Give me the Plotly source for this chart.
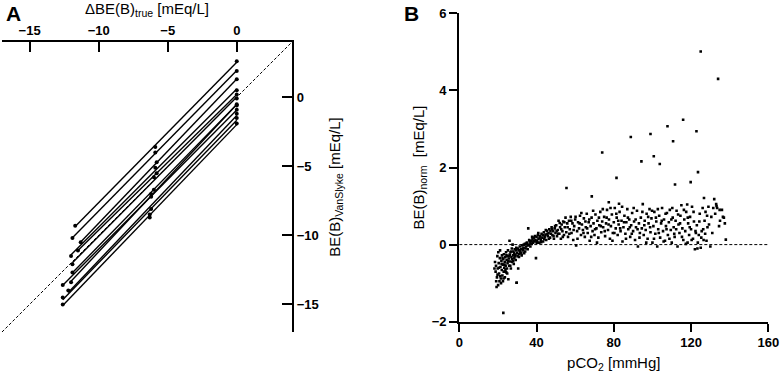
import numpy as np
import plotly.graph_objects as go

# ---------------- Panel A data: each subject (x_true, y_vanslyke) ----------------
a_x = [
    [-11.7, -5.9, 0.0],
    [-11.9, -5.9, 0.0],
    [-11.3, -5.8, 0.0],
    [-12.0, -5.9, 0.0],
    [-11.5, -5.8, 0.0],
    [-11.9, -6.0, 0.0],
    [-11.9, -6.0, 0.0],
    [-12.0, -6.2, 0.0],
    [-12.6, -6.2, 0.0],
    [-12.2, -6.2, 0.0],
    [-12.6, -6.3, 0.0],
    [-12.6, -6.3, 0.0],
]
a_y = [
    [-9.3, -3.6, 2.6],
    [-10.2, -4.0, 1.9],
    [-10.5, -4.7, 1.3],
    [-11.5, -5.1, 0.5],
    [-11.1, -5.5, 0.2],
    [-12.1, -5.8, -0.1],
    [-12.7, -6.7, -0.5],
    [-13.4, -7.0, -0.6],
    [-13.6, -7.2, -0.9],
    [-14.0, -8.1, -1.2],
    [-14.5, -8.5, -1.5],
    [-15.0, -8.7, -1.9],
]
a_ticks = [-15, -10, -5, 0]

# ---------------- Panel B data: pCO2 vs BE(B)norm ----------------
b_pco2 = [
    18.2, 18.5, 18.8, 19.0, 19.3, 19.5, 19.7, 19.9, 20.1, 20.2, 20.4, 20.6, 20.8, 21.0, 21.1, 21.3, 21.5, 21.6, 21.8, 22.0,
    22.1, 22.3, 22.5, 22.6, 22.8, 23.0, 23.1, 23.3, 23.5, 23.6, 23.8, 24.0, 24.2, 24.3, 24.5, 24.7, 24.9, 25.0, 25.2, 25.4,
    25.6, 25.8, 26.0, 26.1, 26.3, 26.5, 26.7, 27.0, 27.2, 27.4, 27.6, 27.8, 28.0, 28.2, 28.5, 28.7, 29.0, 29.2, 29.5, 29.7,
    30.0, 30.2, 30.5, 30.7, 31.0, 31.3, 31.6, 32.0, 32.3, 32.6, 33.0, 33.3, 33.6, 34.0, 34.3, 34.6, 35.0, 35.4, 35.7, 36.0,
    36.4, 36.8, 37.2, 37.5, 37.9, 38.2, 38.6, 39.0, 39.4, 39.7, 40.0, 40.3, 40.7, 41.0, 41.4, 41.8, 42.2, 42.6, 43.0, 43.4,
    43.8, 44.2, 44.6, 45.0, 45.4, 45.8, 46.2, 46.6, 47.0, 47.4, 47.8, 48.2, 48.6, 49.0, 49.4, 49.8, 50.2, 50.6, 51.0, 51.4,
    51.8, 52.2, 52.6, 53.0, 53.4, 53.8, 54.2, 54.6, 55.0, 55.5, 55.4, 55.9, 56.3, 56.8, 57.2, 57.7, 58.1, 58.6, 59.0, 59.5,
    60.0, 60.5, 61.0, 61.5, 62.0, 62.5, 63.0, 63.5, 64.0, 64.5, 65.0, 65.5, 66.0, 66.5, 67.0, 67.5, 68.0, 68.6, 68.5, 69.0,
    69.5, 70.0, 70.5, 71.0, 71.5, 72.0, 72.5, 73.0, 73.5, 74.0, 74.0, 74.5, 75.0, 75.5, 76.0, 76.5, 77.0, 77.4, 77.5, 78.0,
    78.5, 79.0, 79.5, 80.0, 80.5, 81.0, 81.4, 81.5, 82.0, 82.7, 82.5, 83.0, 83.5, 84.0, 84.5, 85.0, 85.5, 86.0, 86.5, 87.0,
    87.5, 88.0, 88.8, 88.5, 89.0, 89.5, 90.0, 90.5, 91.0, 91.5, 92.0, 92.5, 93.0, 93.5, 94.0, 94.3, 94.5, 95.0, 95.5, 96.0,
    96.5, 97.0, 97.5, 98.0, 98.5, 99.0, 99.0, 99.5, 100.0, 100.7, 100.5, 101.0, 101.5, 102.0, 102.5, 103.0, 103.8, 103.5, 104.0, 104.5,
    105.0, 105.5, 106.0, 106.5, 107.0, 107.8, 107.5, 108.0, 108.5, 109.0, 109.5, 110.0, 110.7, 110.5, 111.0, 111.7, 111.5, 112.0, 112.5, 113.0,
    113.5, 114.0, 114.5, 115.0, 115.9, 115.5, 116.0, 116.5, 117.0, 117.5, 118.0, 118.2, 118.5, 119.0, 119.8, 119.5, 120.0, 120.5, 121.0, 121.5,
    122.0, 122.8, 122.5, 123.0, 123.6, 123.5, 124.0, 124.5, 125.0, 125.0, 125.5, 126.0, 126.7, 126.5, 127.0, 127.5, 128.0, 128.5, 129.0, 130.0,
    130.5, 131.0, 132.0, 132.5, 133.0, 133.5, 134.0, 134.5, 135.0, 136.0, 137.0, 137.5, 138.0, 22.8, 29.7,
    19.1, 19.8, 20.5, 21.2, 21.9, 22.4, 22.9, 23.4, 23.9, 24.4, 24.8, 25.3, 25.9, 26.4, 26.9, 27.3, 27.9, 28.4, 28.9, 29.4,
    30.3, 30.9, 31.5, 32.1, 32.8, 33.4, 34.1, 34.8, 35.5, 36.2, 36.9, 37.7, 38.4, 39.2, 40.1, 40.9, 41.6, 42.4, 43.2, 44.0,
    44.8, 45.6, 46.4, 47.2, 48.0, 48.8, 49.6, 50.4, 51.2, 52.0, 52.8, 53.6, 54.4, 56.1, 57.0, 58.0, 59.2, 60.2, 61.2, 62.3,
    63.2, 64.3, 65.3, 66.2, 67.3, 68.3, 69.3, 70.3, 71.3, 72.3, 73.3, 74.3, 75.3, 76.3, 77.3, 78.3, 79.3, 80.3, 81.3, 82.3,
    83.3, 84.3, 85.3, 86.3, 87.3, 88.3, 89.3, 90.3, 91.3, 92.3, 93.3, 94.8, 95.8, 96.8, 97.8, 98.8, 99.8, 100.8, 101.8, 102.8,
    103.3, 104.8, 105.8, 106.8, 107.3, 108.8, 109.8, 110.3, 111.3, 112.3, 113.3, 114.3, 115.3, 116.3, 117.3, 118.3, 119.3, 120.3, 121.3, 122.3,
    123.3, 124.3, 125.3, 126.3, 127.3, 128.3, 129.3, 131.5, 133.2, 134.8, 136.5,
]
b_be = [
    -0.62, -0.45, -0.70, -0.55, -1.10, -0.85, -0.30, -0.62, -1.05, -0.20, -0.48, -0.75, -0.95, -0.35, -0.15, -0.58, -0.88, -1.00, -0.42, -0.66,
    -0.28, -0.80, -0.52, -0.95, -0.38, -0.70, -0.25, -0.60, -0.45, -0.85, -0.33, -0.55, -0.20, -0.72, -0.40, -0.62, -0.30, -0.48, -0.15, -0.90,
    -0.36, -0.55, 0.10, -0.26, -0.44, -0.20, -0.62, -0.32, -0.10, -0.45, 0.00, -0.28, -0.18, -0.50, -0.35, -0.12, -0.26, -0.40, -0.08, -0.99,
    -0.22, -0.30, -0.62, -0.15, -0.25, -0.05, -0.20, -0.12, -0.28, -0.02, -0.15, -0.08, -0.22, 0.02, -0.10, -0.05, 0.05, -0.12, 0.42, 0.00,
    0.08, -0.05, 0.10, 0.02, 0.14, 0.05, 0.18, 0.08, 0.12, -0.35, 0.20, 0.10, 0.25, 0.15, 0.05, 0.22, 0.12, 0.28, 0.18, 0.08,
    0.32, 0.20, 0.26, 0.12, 0.36, 0.22, 0.30, 0.40, 0.18, 0.28, 0.45, 0.25, 0.35, 0.15, 0.42, 0.30, 0.50, 0.22, 0.38, 0.62,
    0.28, 0.45, 0.15, 0.52, 0.35, 0.60, 0.25, 0.45, 0.70, 1.47, 0.32, 0.55, 0.20, 0.62, 0.40, 0.72, 0.30, 0.55, 0.12, 0.48,
    0.65, -0.02, 0.35, 0.58, 0.42, 0.75, 0.25, 0.52, 0.38, 0.68, 0.20, 0.45, 0.80, 0.30, 0.58, 0.10, 0.48, 1.25, 0.70, 0.35,
    0.55, 0.25, 0.78, 0.42, 0.62, 0.18, 0.50, 0.85, 0.32, 2.39, 0.60, 0.45, 0.72, 0.22, 0.55, 0.90, 0.38, 1.10, 0.65, 0.15,
    0.48, 0.78, 0.30, 0.58, 0.95, 0.42, 1.73, 0.70, 0.25, 1.06, 0.52, 0.85, 0.35, 0.62, 0.08, 0.45, 0.75, 0.28, 0.58, 0.92,
    0.40, 0.65, 2.79, 0.20, 0.50, 0.82, 0.35, 0.60, 0.12, 0.45, 0.88, -0.05, 0.55, 0.30, 0.70, 2.16, 0.42, 1.05, 0.25, 0.62,
    0.38, 0.80, 0.15, 0.55, 0.92, 2.87, 0.32, 0.68, 0.05, 2.29, 0.48, 0.85, 0.28, 0.60, -0.05, 0.40, 2.09, 0.75, 0.18, 0.55,
    0.95, 0.35, 0.65, 0.10, 0.48, 3.07, 0.82, 0.25, 0.58, 0.90, 0.38, 0.05, 2.68, 0.70, 0.45, 1.56, 0.20, 0.62, 0.88, -0.05,
    0.52, 0.30, 0.75, 1.02, 3.24, 0.42, 0.12, 0.65, 0.35, 0.85, 1.04, 0.05, 0.55, 0.25, 1.62, 0.72, 0.40, 0.98, 0.15, 0.60,
    -0.12, 2.94, 0.30, 0.50, 1.88, 0.05, 0.25, 0.80, 5.01, -0.08, 0.35, 0.95, 1.21, 0.12, 0.62, 0.85, 0.10, 0.45, 0.98, -0.05,
    0.72, 0.30, 1.18, 0.80, 1.05, 0.95, 4.30, 0.48, 0.62, 0.90, 0.70, 0.55, 0.13, -1.77, -0.99,
    -0.95, -0.78, -0.60, -0.82, -0.50, -0.35, -0.88, -0.52, -0.65, -0.28, -0.75, -0.42, -0.30, -0.55, -0.18, -0.38, -0.42, -0.22, -0.30, -0.15,
    -0.10, -0.32, -0.14, -0.22, -0.10, 0.00, -0.18, 0.03, -0.02, 0.12, 0.04, 0.20, 0.10, 0.22, 0.05, 0.30, 0.18, 0.06, 0.25, 0.14,
    0.38, 0.28, 0.15, 0.35, 0.40, 0.22, 0.48, 0.35, 0.28, 0.56, 0.40, 0.20, 0.58, 0.45, 0.28, 0.62, 0.38, 0.72, 0.15, 0.55,
    0.82, 0.30, 0.60, 0.42, 0.65, 0.20, 0.88, 0.40, 0.05, 0.70, 0.48, 0.92, 0.35, 0.70, 0.52, 0.95, 0.10, 0.30, 0.80, 0.62,
    0.42, 0.98, 0.58, 0.15, 0.70, 0.45, 0.28, 0.95, 0.65, 0.40, 0.18, 0.85, 0.50, 0.05, 0.72, 0.45, 0.88, 0.15, 0.70, 0.92,
    0.30, 0.62, 0.08, 0.80, 0.40, 0.15, 0.65, 0.95, 0.28, 0.40, 0.78, 0.55, 0.20, 0.90, 0.02, 0.70, 0.45, 0.12, 0.85, 0.35,
    -0.10, 0.60, 0.18, 0.40, 0.28, 0.75, 0.52, 0.95, 1.00, 0.90, 0.72,
]
b_xticks = [0, 40, 80, 120, 160]
b_yticks = [-2, 0, 2, 4, 6]

FONT = "Liberation Sans"
W, H = 782, 377

fig = go.Figure()

# identity (dashed) line in panel A
fig.add_trace(go.Scatter(x=[-17, 4], y=[-17, 4], mode="lines",
                         line=dict(color="black", width=1, dash="3px,2px"),
                         xaxis="x", yaxis="y", hoverinfo="skip", showlegend=False))

for xs, ys in zip(a_x, a_y):
    k, b = np.polyfit(xs, ys, 1)
    x0, x1 = min(xs), max(xs)
    fig.add_trace(go.Scatter(x=[x0, x1], y=[k * x0 + b, k * x1 + b], mode="lines",
                             line=dict(color="black", width=1.4),
                             xaxis="x", yaxis="y", showlegend=False))
    fig.add_trace(go.Scatter(x=xs, y=ys, mode="markers",
                             marker=dict(color="black", size=4),
                             xaxis="x", yaxis="y", showlegend=False))

# panel B
fig.add_trace(go.Scatter(x=[0, 160], y=[0, 0], mode="lines",
                         line=dict(color="black", width=1, dash="3px,2px"),
                         xaxis="x2", yaxis="y2", showlegend=False))
fig.add_trace(go.Scatter(x=b_pco2, y=b_be, mode="markers",
                         marker=dict(color="black", size=2.6, symbol="square", line=dict(width=0)),
                         xaxis="x2", yaxis="y2", showlegend=False))

tickfont = dict(family=FONT, size=13, color="black", weight="bold")
titlefont = dict(family=FONT, size=15, color="black")

def px_x(p):
    return p / W

def px_y(p):
    return 1 - p / H

common = dict(showline=True, linewidth=2.2, linecolor="black", showgrid=False, zeroline=False,
              tickcolor="black", tickwidth=2.2, tickfont=tickfont, automargin=False)

fig.update_layout(
    width=W, height=H,
    margin=dict(l=0, r=0, t=0, b=0),
    paper_bgcolor="white", plot_bgcolor="white",
    showlegend=False,
    xaxis=dict(domain=[px_x(2), px_x(292)], range=[-17, 4], side="top", anchor="y",
               tickvals=a_ticks, ticks="inside", ticklen=10,
               title=dict(text="ΔBE(B)<sub>true</sub> [mEq/L]", font=titlefont, standoff=6), **common),
    yaxis=dict(domain=[px_y(332), px_y(42)], range=[-17, 4], side="right", anchor="x",
               tickvals=a_ticks, ticks="inside", ticklen=10,
               title=dict(text="BE(B)<sub>VanSlyke</sub> [mEq/L]", font=titlefont, standoff=12), **common),
    xaxis2=dict(domain=[px_x(459.3), px_x(768.3)], range=[0, 160], anchor="y2",
                tickvals=b_xticks, ticks="outside", ticklen=8,
                title=dict(text="pCO<sub>2</sub> [mmHg]", font=titlefont, standoff=8), **common),
    yaxis2=dict(domain=[px_y(321.7), px_y(13.3)], range=[-2, 6], anchor="x2",
                tickvals=b_yticks, ticks="outside", ticklen=8,
                title=dict(text="BE(B)<sub>norm</sub>  [mEq/L]", font=titlefont, standoff=4), **common),
    annotations=[
        dict(text="<b>A</b>", x=px_x(4), y=px_y(0), xref="paper", yref="paper",
             xanchor="left", yanchor="top", showarrow=False,
             font=dict(family=FONT, size=21, color="black")),
        dict(text="<b>B</b>", x=px_x(402), y=px_y(0), xref="paper", yref="paper",
             xanchor="left", yanchor="top", showarrow=False,
             font=dict(family=FONT, size=21, color="black")),
    ],
)

fig.write_html("out.html", config={"displayModeBar": False},
               post_script="document.body.style.margin='0';document.body.style.overflow='hidden';")
